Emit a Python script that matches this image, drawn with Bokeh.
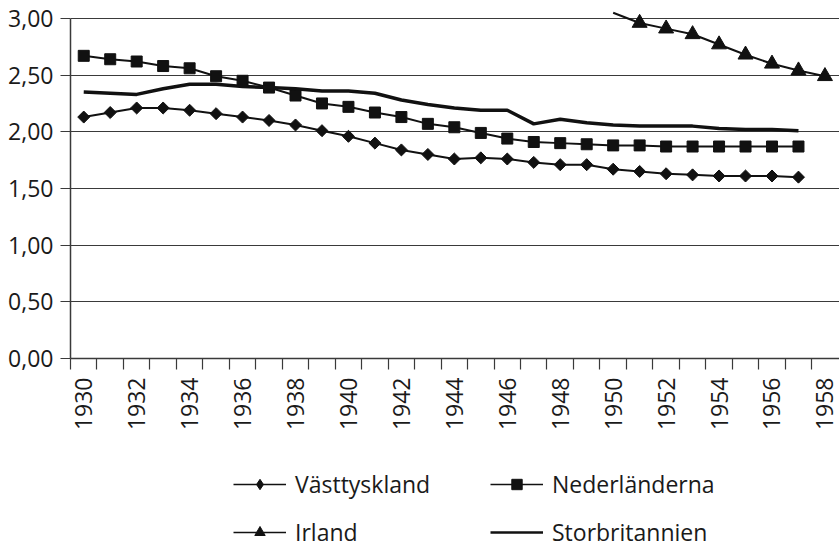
import math
from bokeh.plotting import figure
from bokeh.layouts import column
from bokeh.models import FixedTicker, Legend, LegendItem, Range1d
from bokeh.embed import file_html
from bokeh.resources import INLINE

# ---- data ----
years = list(range(1930, 1958))
vasttyskland = [2.13, 2.17, 2.21, 2.21, 2.19, 2.16, 2.13, 2.10, 2.06, 2.01,
                1.96, 1.90, 1.84, 1.80, 1.76, 1.77, 1.76, 1.73, 1.71, 1.71,
                1.67, 1.65, 1.63, 1.62, 1.61, 1.61, 1.61, 1.60]
nederlanderna = [2.67, 2.64, 2.62, 2.58, 2.56, 2.49, 2.45, 2.39, 2.32, 2.25,
                 2.22, 2.17, 2.13, 2.07, 2.04, 1.99, 1.94, 1.91, 1.90, 1.89,
                 1.88, 1.88, 1.87, 1.87, 1.87, 1.87, 1.87, 1.87]
storbritannien = [2.35, 2.34, 2.33, 2.38, 2.42, 2.42, 2.40, 2.39, 2.38, 2.36,
                  2.36, 2.34, 2.28, 2.24, 2.21, 2.19, 2.19, 2.07, 2.11, 2.08,
                  2.06, 2.05, 2.05, 2.05, 2.03, 2.02, 2.02, 2.01]
irland_years = list(range(1950, 1959))
irland = [3.05, 2.96, 2.91, 2.86, 2.77, 2.68, 2.60, 2.54, 2.49]

x_label_years = [1930, 1932, 1934, 1936, 1938, 1940, 1942, 1944,
                 1946, 1948, 1950, 1952, 1954, 1956, 1958]
x_labels = ["1930", "1932", "1934", "1936", "1938", "1940", "1942", "1944",
            "1946", "1948", "1950", "1952", "1954", "1956", "1958"]
y_ticks = [0.0, 0.5, 1.0, 1.5, 2.0, 2.5, 3.0]
y_labels = ["0,00", "0,50", "1,00", "1,50", "2,00", "2,50", "3,00"]

series_names = ["Västtyskland", "Nederländerna", "Irland", "Storbritannien"]

# ---- styling ----
FONT = "Open Sans"
FS = "23px"
TXT = "#1a1a1a"
INK = "#111111"
GRID = "#3a3a3a"


def draw_series(fig, for_legend=False):
    l_v = fig.line(years, vasttyskland, line_color=INK,
                   line_width=1.5 if for_legend else 2)
    if for_legend:
        m_v = fig.scatter(years, vasttyskland, marker="diamond", size=12,
                          fill_color=INK, line_color=INK)
    else:
        m_v = fig.scatter(years, vasttyskland, marker="square",
                          angle=math.pi / 4, size=8.5,
                          fill_color=INK, line_color=INK)
    l_n = fig.line(years, nederlanderna, line_color=INK,
                   line_width=1.5 if for_legend else 2)
    m_n = fig.scatter(years, nederlanderna, marker="square", size=11,
                      fill_color=INK, line_color=INK)
    l_i = fig.line(irland_years, irland, line_color=INK,
                   line_width=1.5 if for_legend else 2)
    m_i = fig.scatter(irland_years[1:], irland[1:], marker="triangle", size=15,
                      fill_color=INK, line_color=INK)
    l_s = fig.line(years, storbritannien, line_color=INK,
                   line_width=2.5 if for_legend else 3.5, line_join="round")
    return [[l_v, m_v], [l_n, m_n], [l_i, m_i], [l_s]]


# ---- main chart ----
p = figure(width=839, height=460, output_backend="svg", toolbar_location=None,
           x_range=Range1d(1929.5, 1958.55), y_range=Range1d(0, 3.07),
           min_border_left=70, min_border_right=0, min_border_top=10,
           min_border_bottom=102)
p.outline_line_color = None
p.background_fill_color = "white"
p.border_fill_color = "white"

p.xgrid.visible = False
p.ygrid.ticker = FixedTicker(ticks=y_ticks)
p.ygrid.grid_line_color = GRID
p.ygrid.grid_line_width = 1.2

yax = p.yaxis[0]
yax.ticker = FixedTicker(ticks=y_ticks)
yax.bounds = (0, 3.0)
yax.major_label_overrides = {v: s for v, s in zip(y_ticks, y_labels)}
yax.major_tick_out = 10
yax.major_tick_in = 0
yax.minor_tick_line_color = None
yax.major_label_standoff = 7
yax.axis_line_color = GRID
yax.axis_line_width = 1.5
yax.major_tick_line_color = GRID
yax.major_tick_line_width = 1.2
yax.major_label_text_font = FONT
yax.major_label_text_font_size = FS
yax.major_label_text_color = TXT

xax = p.xaxis[0]
xax.ticker = FixedTicker(ticks=x_label_years,
                         minor_ticks=[y - 0.5 for y in range(1930, 1959)])
xax.major_label_overrides = {v: s for v, s in zip(x_label_years, x_labels)}
xax.major_label_orientation = math.pi / 2
xax.major_tick_line_color = None
xax.major_tick_out = 0
xax.major_tick_in = 0
xax.minor_tick_out = 11
xax.minor_tick_in = 0
xax.minor_tick_line_color = GRID
xax.minor_tick_line_width = 1.2
xax.major_label_standoff = 8
xax.axis_line_color = GRID
xax.axis_line_width = 1.5
xax.major_label_text_font = FONT
xax.major_label_text_font_size = FS
xax.major_label_text_color = TXT

draw_series(p)

# ---- legend strip (same series, kept outside its visible range) ----
p2 = figure(width=839, height=88, output_backend="svg", toolbar_location=None,
            x_range=Range1d(0, 1), y_range=Range1d(10, 11),
            x_axis_location=None, y_axis_location=None,
            min_border_left=0, min_border_right=0, min_border_top=0,
            min_border_bottom=0)
p2.grid.visible = False
p2.outline_line_color = None
p2.background_fill_color = "white"
p2.border_fill_color = "white"

groups = draw_series(p2, for_legend=True)
legend = Legend(items=[LegendItem(label=n, renderers=g)
                       for n, g in zip(series_names, groups)],
                location=(163, 0), orientation="horizontal", ncols=2)
legend.border_line_color = None
legend.background_fill_alpha = 0
legend.padding = 0
legend.margin = 0
legend.spacing = 16
legend.glyph_width = 53
legend.glyph_height = 26
legend.label_width = 179
legend.label_standoff = 9
legend.label_text_font = FONT
legend.label_text_font_size = FS
legend.label_text_color = TXT
p2.add_layout(legend)

layout = column(p, p2, spacing=0)
open("out.html", "w").write(file_html(layout, INLINE))
